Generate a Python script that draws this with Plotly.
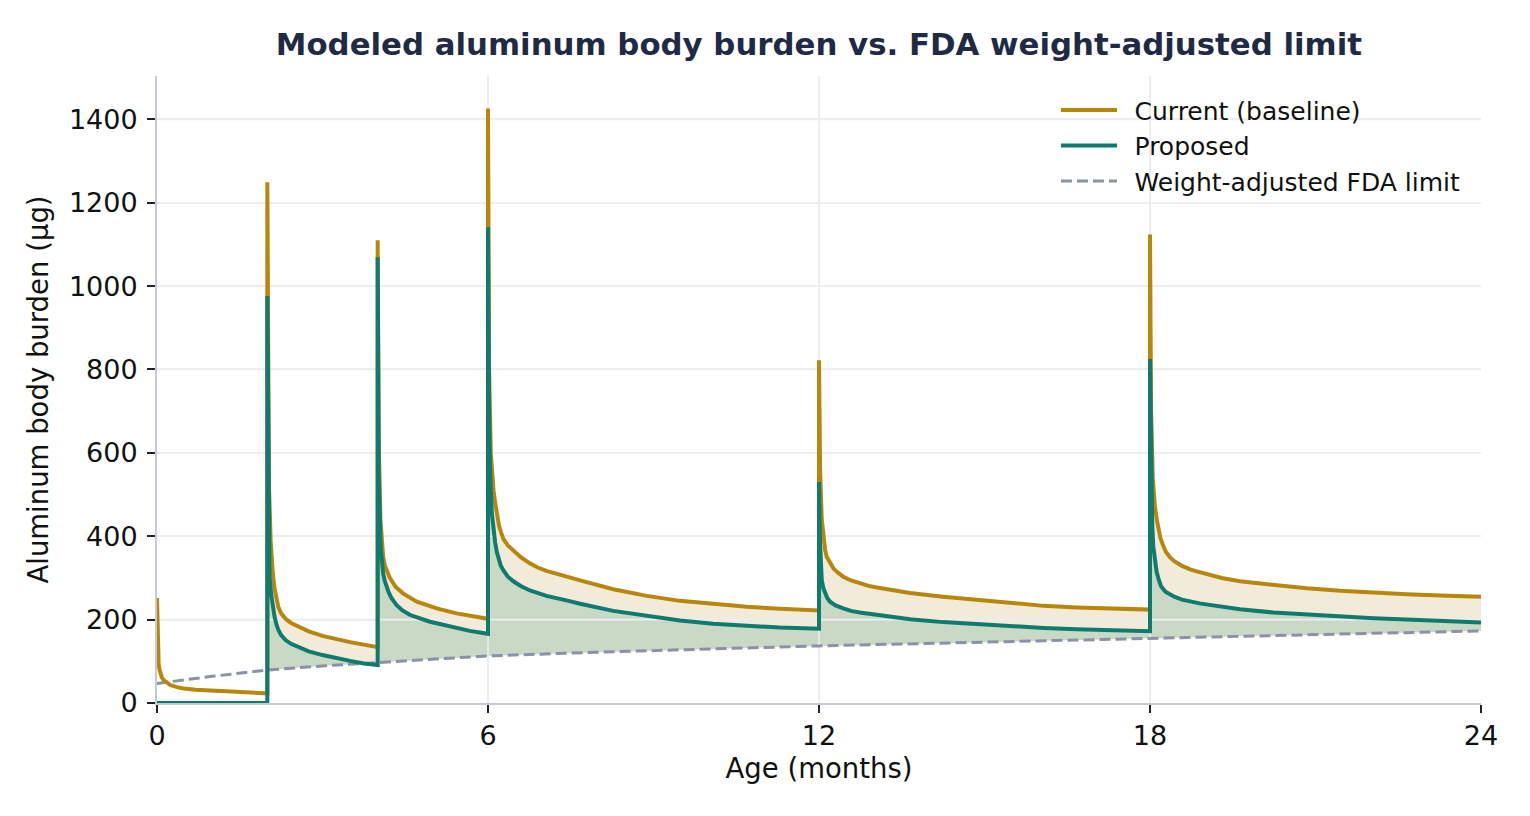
import plotly.graph_objects as go

# ---- data ----
# age in months, aluminum body burden in ug
current_t = [
    0.0, 0.01, 0.02, 0.03, 0.045, 0.06, 0.09, 0.12, 0.18, 0.24, 0.36, 0.48, 0.7,
    0.96, 1.5, 2.0,
    2.0, 2.03, 2.06, 2.08, 2.10, 2.13, 2.16, 2.20, 2.25, 2.33, 2.43, 2.6, 2.75,
    3.0, 3.25, 3.5, 3.75, 4.0,
    4.0, 4.02, 4.05, 4.08, 4.10, 4.13, 4.16, 4.22, 4.33, 4.46, 4.71, 5.07, 5.43,
    5.7, 6.0,
    6.0, 6.02, 6.05, 6.08, 6.10, 6.13, 6.15, 6.20, 6.24, 6.28, 6.36, 6.46, 6.6,
    6.76, 6.9, 7.06, 7.46, 7.67, 8.27, 8.88, 9.48, 10.08, 10.69, 11.29, 12.0,
    12.0, 12.02, 12.05, 12.08, 12.11, 12.14, 12.20, 12.26, 12.35, 12.44, 12.58,
    12.74, 12.9, 13.05, 13.65, 14.25, 14.86, 15.46, 16.07, 16.67, 17.27, 18.0,
    18.0, 18.02, 18.05, 18.09, 18.13, 18.16, 18.19, 18.24, 18.29, 18.36, 18.44,
    18.58, 18.74, 18.9, 19.05, 19.3, 19.63, 20.24, 20.84, 21.45, 22.05, 22.65,
    23.26, 24.0,
]
current_ug = [
    252, 160, 120, 95, 80, 70, 61, 55, 48, 43, 38, 35, 32,
    30, 25, 23,
    1249, 520, 390, 345, 310, 275, 250, 230, 215, 202, 192, 181, 172,
    161, 153, 146, 140, 134,
    1110, 620, 440, 380, 350, 330, 318, 300, 278, 263, 243, 227, 215,
    208, 202,
    1426, 800, 600, 540, 510, 480, 460, 425, 408, 393, 378, 365, 349,
    335, 325, 317, 301, 294, 273, 257, 245, 237, 231, 226, 222,
    822, 560, 440, 391, 368, 351, 335, 323, 312, 303, 294,
    287, 281, 277, 264, 255, 247, 239, 233, 229, 226, 224,
    1124, 700, 540, 470, 435, 413, 395, 377, 362, 350, 340,
    329, 320, 314, 309, 300, 292, 283, 275, 269, 264, 261,
    258, 255,
]

proposed_t = [
    0.0, 2.0,
    2.0, 2.02, 2.04, 2.07, 2.10, 2.13, 2.16, 2.20, 2.25, 2.33, 2.43, 2.6, 2.75,
    3.0, 3.25, 3.5, 3.75, 4.0,
    4.0, 4.02, 4.05, 4.08, 4.10, 4.13, 4.16, 4.20, 4.25, 4.34, 4.45, 4.59, 4.95,
    5.31, 5.67, 6.0,
    6.0, 6.02, 6.04, 6.07, 6.10, 6.13, 6.16, 6.19, 6.23, 6.28, 6.36, 6.46, 6.6,
    6.76, 6.9, 7.06, 7.46, 7.67, 8.27, 8.88, 9.48, 10.08, 10.69, 11.29, 12.0,
    12.0, 12.02, 12.05, 12.08, 12.11, 12.15, 12.20, 12.3, 12.44, 12.58, 12.74,
    13.05, 13.65, 14.25, 14.86, 15.46, 16.07, 16.67, 17.27, 18.0,
    18.0, 18.02, 18.04, 18.06, 18.09, 18.12, 18.16, 18.20, 18.28, 18.36, 18.44,
    18.58, 18.74, 18.9, 19.05, 19.3, 19.63, 20.24, 20.84, 21.45, 22.05, 22.65,
    23.26, 24.0,
]
proposed_ug = [
    0, 0,
    976, 450, 303, 260, 231, 208, 191, 175, 163, 151, 142, 133, 124,
    115, 107, 101, 95, 91,
    1069, 550, 380, 335, 310, 292, 279, 265, 252, 235, 222, 211, 195,
    183, 173, 166,
    1141, 700, 540, 455, 415, 385, 362, 345, 330, 318, 303, 292, 280,
    270, 263, 257, 245, 238, 221, 209, 198, 190, 185, 181, 178,
    530, 380, 295, 275, 263, 252, 243, 234, 227, 221, 217,
    211, 201, 194, 189, 184, 180, 177, 174, 172,
    825, 520, 430, 375, 340, 315, 295, 280, 267, 260, 255,
    248, 243, 239, 236, 231, 225, 217, 212, 207, 203, 200,
    197, 193,
]

limit_t = [0, 1, 2, 3, 4, 5, 6, 8, 10, 12, 15, 18, 21, 24]
limit_ug = [47, 64, 79, 89, 97, 105, 113, 122, 130, 137, 146, 155, 164, 173]

x_ticks = [0, 6, 12, 18, 24]
y_ticks = [0, 200, 400, 600, 800, 1000, 1200, 1400]

first_dose = 2.0
y_max = 1504

GOLD = "#b8860b"
TEAL = "#0f7b6e"
SLATE = "#8a92a5"
GRID = "#ebedf1"
SPINE = "#c5cad4"

fig = go.Figure()

# %% shaded bands, starting at the first dose
lt = [t for t in limit_t if t >= first_dose]
lv = [v for t, v in zip(limit_t, limit_ug) if t >= first_dose]
ip = proposed_t.index(first_dose) + 1
ic = current_t.index(first_dose) + 1

fig.add_trace(go.Scatter(x=lt, y=lv, mode="lines", line=dict(width=0),
                         showlegend=False, hoverinfo="skip"))
fig.add_trace(go.Scatter(x=proposed_t[ip:], y=proposed_ug[ip:], mode="lines",
                         line=dict(width=0), fill="tonexty", fillcolor="#c9d9c6",
                         showlegend=False, hoverinfo="skip"))
fig.add_trace(go.Scatter(x=current_t[ic:], y=current_ug[ic:], mode="lines",
                         line=dict(width=0), fill="tonexty", fillcolor="#f3ebda",
                         showlegend=False, hoverinfo="skip"))

# grid drawn over the bands but under the lines (like matplotlib)
gx, gy = [], []
for yv in y_ticks[1:]:
    gx += [x_ticks[0], x_ticks[-1], None]
    gy += [yv, yv, None]
for xv in x_ticks[1:-1]:
    gx += [xv, xv, None]
    gy += [0, y_max, None]
fig.add_trace(go.Scatter(x=gx, y=gy, mode="lines", line=dict(color=GRID, width=1.6),
                         showlegend=False, hoverinfo="skip"))

# %% lines
fig.add_trace(go.Scatter(x=limit_t, y=limit_ug, mode="lines",
                         name="\u2002Weight-adjusted FDA limit", legendrank=3,
                         line=dict(color=SLATE, width=3, dash="11px,5px")))
fig.add_trace(go.Scatter(x=current_t, y=current_ug, mode="lines",
                         name="\u2002Current (baseline)", legendrank=1,
                         line=dict(color=GOLD, width=4)))
fig.add_trace(go.Scatter(x=proposed_t, y=proposed_ug, mode="lines",
                         name="\u2002Proposed", legendrank=2,
                         line=dict(color=TEAL, width=4)))

# page body has an 8px margin, so margins are shifted to land the axes in place
fig.update_layout(
    width=1530, height=816,
    margin=dict(l=149, r=57, t=68, b=121),
    paper_bgcolor="white", plot_bgcolor="white",
    font=dict(family="DejaVu Sans", color="#111111", size=27),
    title=dict(text="<b>Modeled aluminum body burden vs. FDA weight-adjusted limit</b>",
               x=0.530, xanchor="center", y=0.956, yanchor="middle",
               font=dict(size=30.8, color="#1f2a44")),
    legend=dict(x=0.679, xanchor="left", y=0.982, yanchor="top",
                bgcolor="rgba(0,0,0,0)", font=dict(size=25),
                traceorder="normal", itemwidth=56, tracegroupgap=0),
    showlegend=True,
)

fig.update_xaxes(range=[0, 24], tickvals=x_ticks, showgrid=True, gridcolor=GRID,
                 gridwidth=1.6, zeroline=False, showline=True, linecolor=SPINE,
                 linewidth=2, ticks="outside", ticklen=8, tickwidth=1.5,
                 tickcolor="#222222", tickfont=dict(size=27),
                 title=dict(text="Age (months)", font=dict(size=27.5), standoff=8))
fig.update_yaxes(range=[0, y_max], tickvals=y_ticks, showgrid=True, gridcolor=GRID,
                 gridwidth=1.6, zeroline=False, showline=True, linecolor=SPINE,
                 linewidth=2, ticks="outside", ticklen=8, tickwidth=1.5,
                 tickcolor="#222222", tickfont=dict(size=27), ticklabelstandoff=4,
                 title=dict(text="Aluminum body burden (µg)", font=dict(size=27.5),
                            standoff=12))

fig.write_html("out.html")
